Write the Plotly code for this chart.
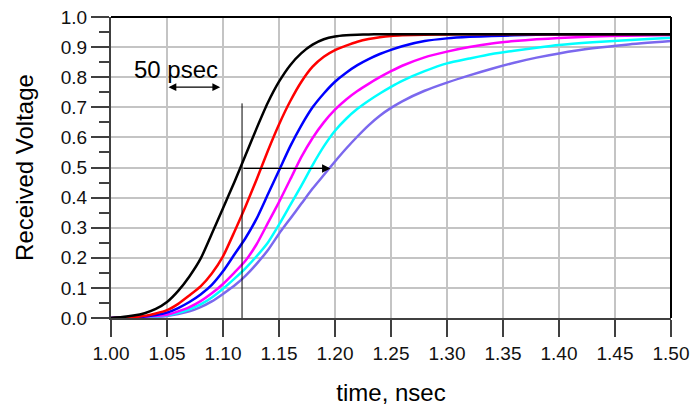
import plotly.graph_objects as go

# Time axis (ns) shared by all received-voltage traces
time_ns = [1.00, 1.01, 1.02, 1.03, 1.04, 1.05, 1.06, 1.07, 1.08, 1.09,
           1.10, 1.11, 1.12, 1.13, 1.14, 1.15, 1.16, 1.17, 1.18, 1.19,
           1.20, 1.21, 1.22, 1.23, 1.24, 1.25, 1.26, 1.28, 1.30, 1.32,
           1.34, 1.36, 1.38, 1.40, 1.43, 1.46, 1.50]

v_black = [0.000, 0.003, 0.008, 0.016, 0.030, 0.053, 0.090, 0.138, 0.197, 0.280,
           0.365, 0.450, 0.540, 0.630, 0.715, 0.785, 0.840, 0.880, 0.908, 0.926,
           0.935, 0.939, 0.941, 0.942, 0.943, 0.943, 0.943, 0.943, 0.943, 0.943,
           0.943, 0.943, 0.943, 0.943, 0.943, 0.943, 0.943]

v_red = [0.000, 0.001, 0.003, 0.007, 0.015, 0.026, 0.047, 0.075, 0.105, 0.148,
         0.205, 0.285, 0.370, 0.460, 0.555, 0.643, 0.720, 0.785, 0.835, 0.868,
         0.890, 0.905, 0.918, 0.927, 0.933, 0.937, 0.939, 0.941, 0.942, 0.943,
         0.943, 0.943, 0.943, 0.943, 0.943, 0.943, 0.943]

v_blue = [0.000, 0.001, 0.002, 0.005, 0.010, 0.018, 0.033, 0.053, 0.078, 0.110,
          0.155, 0.210, 0.265, 0.330, 0.410, 0.490, 0.570, 0.640, 0.700, 0.746,
          0.785, 0.815, 0.840, 0.860, 0.877, 0.891, 0.903, 0.920, 0.929, 0.934,
          0.937, 0.939, 0.941, 0.942, 0.943, 0.943, 0.943]

v_magenta = [0.000, 0.001, 0.002, 0.004, 0.007, 0.011, 0.022, 0.036, 0.056, 0.082,
             0.113, 0.150, 0.190, 0.245, 0.315, 0.385, 0.460, 0.535, 0.598, 0.650,
             0.692, 0.726, 0.754, 0.778, 0.800, 0.820, 0.838, 0.866, 0.885, 0.900,
             0.912, 0.920, 0.926, 0.930, 0.935, 0.938, 0.940]

v_cyan = [0.000, 0.001, 0.001, 0.003, 0.005, 0.009, 0.017, 0.029, 0.045, 0.068,
          0.097, 0.130, 0.165, 0.205, 0.250, 0.310, 0.375, 0.440, 0.508, 0.570,
          0.622, 0.662, 0.695, 0.722, 0.746, 0.768, 0.788, 0.820, 0.846, 0.862,
          0.877, 0.888, 0.898, 0.907, 0.916, 0.923, 0.931]

v_purple = [0.000, 0.000, 0.001, 0.002, 0.004, 0.007, 0.013, 0.022, 0.036, 0.055,
            0.080, 0.107, 0.140, 0.180, 0.225, 0.280, 0.330, 0.380, 0.430, 0.475,
            0.520, 0.563, 0.603, 0.640, 0.672, 0.698, 0.720, 0.755, 0.782, 0.806,
            0.828, 0.848, 0.865, 0.879, 0.896, 0.908, 0.920]

x_ticks = [1.00, 1.05, 1.10, 1.15, 1.20, 1.25, 1.30, 1.35, 1.40, 1.45, 1.50]
y_ticks = [0.0, 0.1, 0.2, 0.3, 0.4, 0.5, 0.6, 0.7, 0.8, 0.9, 1.0]

series = [
    (v_purple, "#7B68EE"),
    (v_cyan, "#00FFFF"),
    (v_magenta, "#FF00FF"),
    (v_blue, "#0000FF"),
    (v_red, "#FF0000"),
    (v_black, "#000000"),
]

FONT = "Liberation Sans, Arial, sans-serif"
AXIS_GRAY = "#404040"

fig = go.Figure()
for values, color in series:
    fig.add_trace(go.Scatter(
        x=time_ns, y=values, mode="lines",
        line=dict(color=color, width=2.5, shape="spline", smoothing=0.6),
        hoverinfo="skip", showlegend=False,
    ))

fig.update_layout(
    width=691, height=411,
    margin=dict(l=111, r=20, t=17, b=93),
    paper_bgcolor="white", plot_bgcolor="white",
    font=dict(family=FONT, color="#000000", size=19),
    xaxis=dict(
        range=[1.0, 1.5], tickmode="array", tickvals=x_ticks,
        ticktext=[f"{v:.2f}" for v in x_ticks],
        ticks="outside", ticklen=17, tickwidth=2, tickcolor=AXIS_GRAY,
        showline=True, linecolor=AXIS_GRAY, linewidth=2,
        showgrid=True, gridcolor="#c4c4c4", gridwidth=1.5,
        zeroline=False, automargin=False,
        tickfont=dict(size=19, color="#111111"),
        title=dict(text="time, nsec", font=dict(size=24), standoff=21),
    ),
    yaxis=dict(
        range=[0.0, 1.0], tickmode="array", tickvals=y_ticks,
        ticktext=[f"{v:.1f}" for v in y_ticks],
        ticks="outside", ticklen=18, tickwidth=2, tickcolor=AXIS_GRAY,
        minor=dict(dtick=0.05, tick0=0.0, ticks="outside", ticklen=10,
                   tickwidth=2, tickcolor=AXIS_GRAY, showgrid=False),
        showline=True, linecolor=AXIS_GRAY, linewidth=2,
        showgrid=True, gridcolor="#c4c4c4", gridwidth=1.5,
        zeroline=False, automargin=False,
        tickfont=dict(size=19, color="#111111"),
        title=dict(text="Received Voltage", font=dict(size=24), standoff=20),
    ),
)

# Frame on the top and right edges of the plot area
fig.add_shape(type="line", xref="paper", yref="paper", x0=0, x1=1, y0=1, y1=1,
              line=dict(color="black", width=2))
fig.add_shape(type="line", xref="paper", yref="paper", x0=1, x1=1, y0=0, y1=1,
              line=dict(color="black", width=2))

# 50 ps scale bar
fig.add_annotation(text="50 psec", x=1.058, y=0.826, xref="x", yref="y",
                   showarrow=False, font=dict(size=24, color="black"))
fig.add_annotation(x=1.0975, y=0.767, ax=1.050, ay=0.767,
                   xref="x", yref="y", axref="x", ayref="y",
                   text="", showarrow=True, arrowside="end+start",
                   arrowhead=2, arrowsize=1.2, arrowwidth=1.3, arrowcolor="black")

# 50 % crossing marker and delay arrow
fig.add_shape(type="line", xref="x", yref="y", x0=1.117, x1=1.117, y0=0.0, y1=0.713,
              line=dict(color="black", width=1))
fig.add_annotation(x=1.196, y=0.497, ax=1.117, ay=0.497,
                   xref="x", yref="y", axref="x", ayref="y",
                   text="", showarrow=True, arrowhead=2, arrowsize=1.3,
                   arrowwidth=1.3, arrowcolor="black")

fig.write_html("out.html")
